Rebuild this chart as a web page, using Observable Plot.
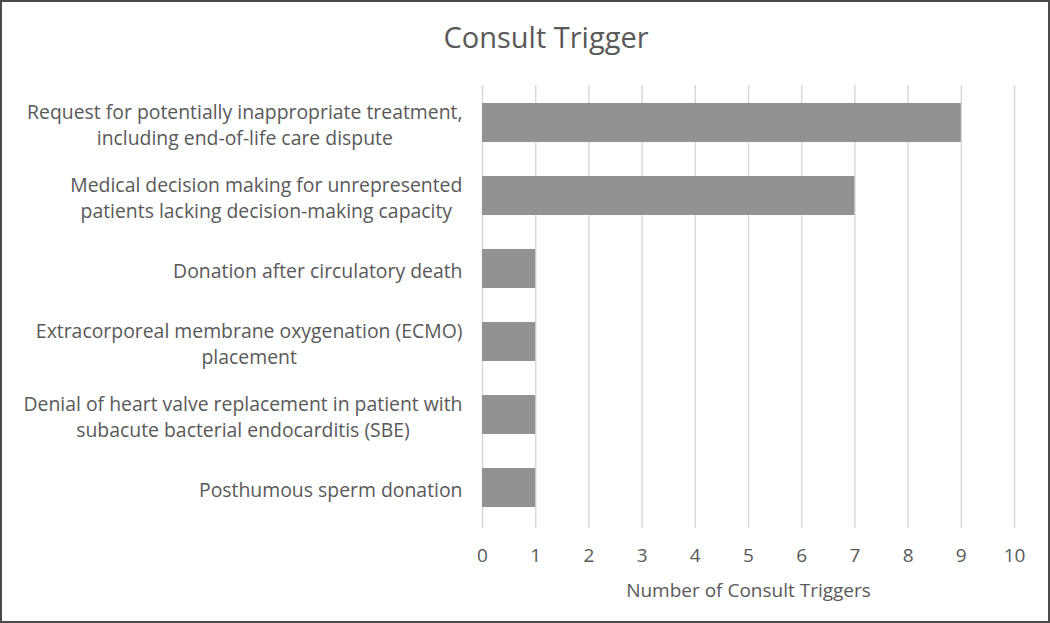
<!DOCTYPE html>
<html><head><meta charset="utf-8">
<script src="https://cdn.jsdelivr.net/npm/d3@7"></script>
<script src="https://cdn.jsdelivr.net/npm/@observablehq/plot@0.6"></script>
<style>
html,body{margin:0;padding:0;background:#fff;}
#frame{width:1050px;height:623px;box-sizing:border-box;border:2px solid #4a4a4a;background:#fff;overflow:hidden;}
#title{height:70px;line-height:70px;text-align:center;padding-left:42px;box-sizing:border-box;font-family:"Open Sans",sans-serif;font-size:29px;color:#595959;}
svg{display:block;}
</style></head>
<body><div id="frame"><div id="title">Consult Trigger</div><div id="chart"></div></div>
<script>
const categories = [
  "Request for potentially inappropriate treatment,\nincluding end-of-life care dispute",
  "Medical decision making for unrepresented\npatients lacking decision-making capacity",
  "Donation after circulatory death",
  "Extracorporeal membrane oxygenation (ECMO)\nplacement",
  "Denial of heart valve replacement in patient with\nsubacute bacterial endocarditis (SBE)",
  "Posthumous sperm donation"
];
const counts = [9, 7, 1, 1, 1, 1];
const xTicks = [0,1,2,3,4,5,6,7,8,9,10];
const xLabel = "Number of Consult Triggers";

const data = categories.map((c, i) => ({category: c, count: counts[i]}));
const font = "'Open Sans', sans-serif";

const chart = Plot.plot({
  width: 1046,
  height: 549,
  marginTop: 13,
  marginBottom: 93,
  marginLeft: 480,
  marginRight: 34,
  style: {fontFamily: font, fontSize: "19px", color: "#595959", background: "#fff"},
  x: {domain: [0, 10], ticks: xTicks, label: null},
  y: {domain: categories, paddingInner: 0.47, paddingOuter: 0.235, label: null},
  marks: [
    Plot.ruleX(xTicks, {stroke: "#d9d9d9", strokeWidth: 1.5}),
    Plot.barX(data, {x: "count", y: "category", fill: "#929292", dy: -2}),
    Plot.axisX({ticks: xTicks, tickSize: 0, tickPadding: 20, fontSize: 19, fill: "#595959", label: null}),
    Plot.axisY({tickSize: 0, tickPadding: 20, fontSize: 19.4, fill: "#595959", lineHeight: 1.3, dy: -1, label: null}),
    Plot.text([xLabel], {frameAnchor: "bottom", dy: 68, fontSize: 19, fill: "#595959"})
  ]
});
document.getElementById("chart").appendChild(chart);

// Center multi-line y labels relative to each other while keeping the block right-aligned
d3.select(chart).selectAll('g[aria-label="y-axis tick label"] text').each(function() {
  const w = this.getBBox().width;
  const t = d3.select(this);
  t.attr("text-anchor", "middle");
  const tspans = t.selectAll("tspan");
  if (tspans.empty()) {
    t.attr("x", (+t.attr("x") || 0) - w / 2);
  } else {
    tspans.attr("x", -w / 2);
  }
});
</script>
</body></html>
